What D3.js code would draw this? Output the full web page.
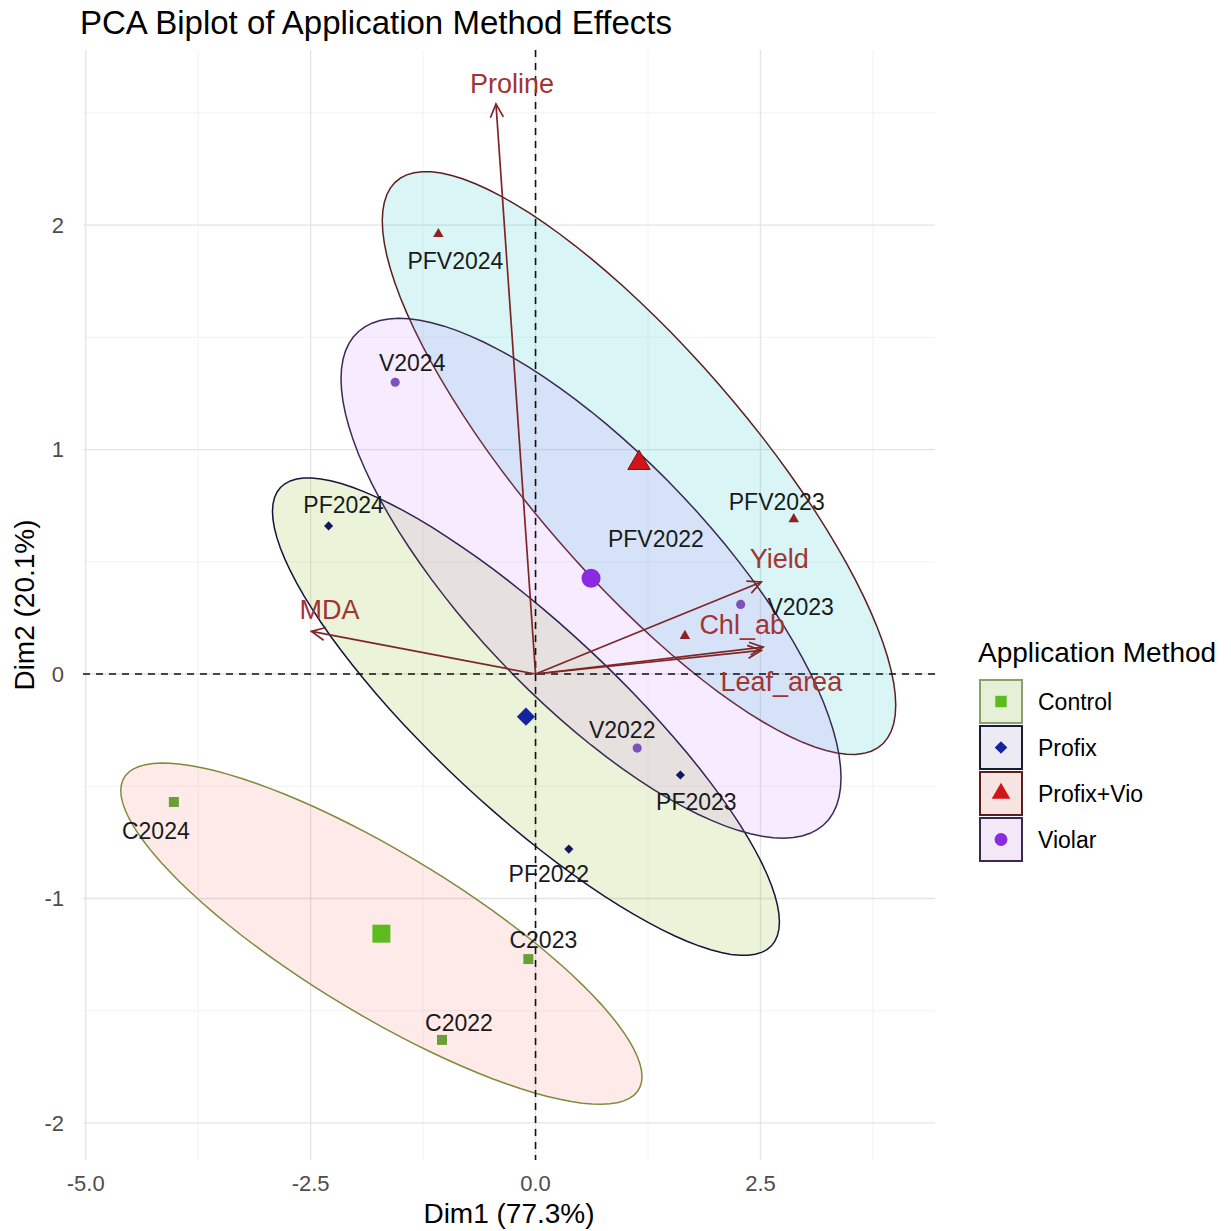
<!DOCTYPE html>
<html>
<head>
<meta charset="utf-8">
<script src="https://cdn.jsdelivr.net/npm/d3@7"></script>
<style>
    body { margin: 0; background: #fff; }
    svg { font-family: "Liberation Sans", Arial, sans-serif; }
</style>
</head>
<body>
<svg id="biplot" width="1231" height="1231"></svg>
<script>
// individuals
const indNames = ["C2022", "C2023", "C2024", "PF2022", "PF2023", "PF2024",
    "PFV2022", "PFV2023", "PFV2024", "V2022", "V2023", "V2024"];
const indGroup = ["Control", "Control", "Control", "Profix", "Profix", "Profix",
    "Profix+Vio", "Profix+Vio", "Profix+Vio", "Violar", "Violar", "Violar"];
const indDim1 = [-1.04, -0.08, -4.02, 0.37, 1.61, -2.30, 1.66, 2.87, -1.08, 1.13, 2.28, -1.56];
const indDim2 = [-1.63, -1.27, -0.57, -0.78, -0.45, 0.66, 0.17, 0.69, 1.96, -0.33, 0.31, 1.30];

// variables
const varNames = ["Proline", "MDA", "Yield", "Chl_ab", "Leaf_area"];
const varDim1 = [-0.44, -2.49, 2.51, 2.53, 2.51];
const varDim2 = [2.54, 0.19, 0.41, 0.12, 0.105];

const groups = ["Control", "Profix", "Profix+Vio", "Violar"];
const xTicks = [-5, -2.5, 0, 2.5];
const yTicks = [-2, -1, 0, 1, 2];
const xMinor = [-3.75, -1.25, 1.25, 3.75];
const yMinor = [-1.5, -0.5, 0.5, 1.5, 2.5];

// styles
const pointColor = {"Control": "#6a9e36", "Profix": "#16165e", "Profix+Vio": "#8e2222", "Violar": "#7c52bb"};
const centroidColor = {"Control": "#5cbb1e", "Profix": "#1424a0", "Profix+Vio": "#d01616", "Violar": "#8a2be2"};
const ellipseFill = {"Control": "#F8766D", "Profix": "#7CAE00", "Profix+Vio": "#00BFC4", "Violar": "#C77CFF"};
const ellipseStroke = {"Control": "#7d8c3c", "Profix": "#15153a", "Profix+Vio": "#5c1f1f", "Violar": "#3a2a52"};
const keyFill = {"Control": "#e5f0d7", "Profix": "#ecebf4", "Profix+Vio": "#f8e3e3", "Violar": "#f2e8f8"};
const keyStroke = {"Control": "#8d9d6d", "Profix": "#1a1a30", "Profix+Vio": "#5a2020", "Violar": "#3a2a50"};
const symbolFor = {"Control": d3.symbolSquare, "Profix": d3.symbolSquare, "Profix+Vio": d3.symbolTriangle, "Violar": d3.symbolCircle};
const smallSize = {"Control": 100, "Profix": 42, "Profix+Vio": 48, "Violar": 66};
const bigSize = {"Control": 324, "Profix": 165, "Profix+Vio": 215, "Violar": 283};

// label nudges in px (text centre relative to the point), like a repel result
const indLabelOffset = {
    "C2022": [17, -17], "C2023": [15, -19], "C2024": [-18, 29],
    "PF2022": [-20, 25], "PF2023": [16, 27], "PF2024": [15, -21],
    "PFV2022": [-29, -97], "PFV2023": [-17, -17], "PFV2024": [17, 27],
    "V2022": [-15, -18], "V2023": [60, 2], "V2024": [17, -19]
};
const varLabelOffset = {
    "Proline": [16, -21], "MDA": [18, -22], "Yield": [18, -24],
    "Chl_ab": [-21, -23], "Leaf_area": [20, 31]
};

const ellipseScale = 1.41;

const svg = d3.select('#biplot');

const panel = {left: 83, right: 935, top: 50, bottom: 1160};

const x = d3.scaleLinear().domain([-5.03, 4.44]).range([panel.left, panel.right]);
const y = d3.scaleLinear().domain([-2.165, 2.78]).range([panel.bottom, panel.top]);

// grid
const grid = svg.append('g');
grid.selectAll('.vminor').data(xMinor).enter().append('line')
    .attr('x1', d => x(d)).attr('x2', d => x(d))
    .attr('y1', panel.top).attr('y2', panel.bottom)
    .attr('stroke', '#f0f0f0').attr('stroke-width', 0.9);
grid.selectAll('.hminor').data(yMinor.filter(d => y(d) >= panel.top)).enter().append('line')
    .attr('x1', panel.left).attr('x2', panel.right)
    .attr('y1', d => y(d)).attr('y2', d => y(d))
    .attr('stroke', '#f0f0f0').attr('stroke-width', 0.9);
grid.selectAll('.vmajor').data(xTicks).enter().append('line')
    .attr('x1', d => x(d)).attr('x2', d => x(d))
    .attr('y1', panel.top).attr('y2', panel.bottom)
    .attr('stroke', '#e4e4e4').attr('stroke-width', 1.3);
grid.selectAll('.hmajor').data(yTicks).enter().append('line')
    .attr('x1', panel.left).attr('x2', panel.right)
    .attr('y1', d => y(d)).attr('y2', d => y(d))
    .attr('stroke', '#e4e4e4').attr('stroke-width', 1.3);

// ellipses from each group's covariance
const ind = indNames.map((n, i) => ({name: n, group: indGroup[i], d1: indDim1[i], d2: indDim2[i]}));

function groupStats(g) {
    const pts = ind.filter(d => d.group === g);
    const mx = d3.mean(pts, d => d.d1);
    const my = d3.mean(pts, d => d.d2);
    const n = pts.length;
    const sxx = d3.sum(pts, d => (d.d1 - mx) ** 2) / (n - 1);
    const syy = d3.sum(pts, d => (d.d2 - my) ** 2) / (n - 1);
    const sxy = d3.sum(pts, d => (d.d1 - mx) * (d.d2 - my)) / (n - 1);
    return {group: g, mx, my, sxx, syy, sxy};
}
const stats = groups.map(groupStats);

function ellipsePoints(s) {
    // cholesky of the 2x2 covariance
    const l11 = Math.sqrt(s.sxx);
    const l21 = s.sxy / l11;
    const l22 = Math.sqrt(Math.max(s.syy - l21 * l21, 0));
    return d3.range(0, 101).map(k => {
        const t = k / 100 * 2 * Math.PI;
        const u = Math.cos(t) * ellipseScale, v = Math.sin(t) * ellipseScale;
        return [x(s.mx + l11 * u), y(s.my + l21 * u + l22 * v)];
    });
}

const lineGen = d3.line().curve(d3.curveLinearClosed);
svg.append('g').selectAll('path').data(stats).enter().append('path')
    .attr('d', s => lineGen(ellipsePoints(s)))
    .attr('fill', s => ellipseFill[s.group])
    .attr('fill-opacity', 0.15)
    .attr('stroke', s => ellipseStroke[s.group])
    .attr('stroke-width', 1.5);

// reference lines
svg.append('line')
    .attr('x1', panel.left).attr('x2', panel.right)
    .attr('y1', y(0)).attr('y2', y(0))
    .attr('stroke', '#111').attr('stroke-width', 1.6).attr('stroke-dasharray', '7,6');
svg.append('line')
    .attr('x1', x(0)).attr('x2', x(0))
    .attr('y1', panel.top).attr('y2', panel.bottom)
    .attr('stroke', '#111').attr('stroke-width', 1.6).attr('stroke-dasharray', '7,6');

// variable arrows
const vars = varNames.map((n, i) => ({name: n, d1: varDim1[i], d2: varDim2[i]}));
const arrows = svg.append('g');
vars.forEach(v => {
    const x0 = x(0), y0 = y(0), x1 = x(v.d1), y1 = y(v.d2);
    const ang = Math.atan2(y1 - y0, x1 - x0);
    const head = 15, spread = Math.PI / 7;
    arrows.append('line')
        .attr('x1', x0).attr('y1', y0).attr('x2', x1).attr('y2', y1)
        .attr('stroke', '#7e2626').attr('stroke-width', 1.7);
    arrows.append('path')
        .attr('d', `M${x1 - head * Math.cos(ang - spread)},${y1 - head * Math.sin(ang - spread)}` +
            `L${x1},${y1}L${x1 - head * Math.cos(ang + spread)},${y1 - head * Math.sin(ang + spread)}`)
        .attr('fill', 'none').attr('stroke', '#7e2626').attr('stroke-width', 1.7);
});

// individual points
const symbol = d3.symbol();
svg.append('g').selectAll('path').data(ind).enter().append('path')
    .attr('d', d => symbol.type(symbolFor[d.group]).size(smallSize[d.group])())
    .attr('transform', d => `translate(${x(d.d1)},${y(d.d2)})` + (d.group === 'Profix' ? ' rotate(45)' : ''))
    .attr('fill', d => pointColor[d.group]);

// group centroids
svg.append('g').selectAll('path').data(stats).enter().append('path')
    .attr('d', s => symbol.type(symbolFor[s.group]).size(bigSize[s.group])())
    .attr('transform', s => `translate(${x(s.mx)},${y(s.my)})` + (s.group === 'Profix' ? ' rotate(45)' : ''))
    .attr('fill', s => centroidColor[s.group])
    .attr('stroke', s => s.group === 'Profix+Vio' ? '#7a1010' : 'none')
    .attr('stroke-width', 1);

// individual labels
svg.append('g').selectAll('text').data(ind).enter().append('text')
    .attr('x', d => x(d.d1) + indLabelOffset[d.name][0])
    .attr('y', d => y(d.d2) + indLabelOffset[d.name][1])
    .attr('dy', '0.36em')
    .attr('text-anchor', 'middle')
    .attr('font-size', 23)
    .attr('fill', '#1a1a1a')
    .text(d => d.name);

// variable labels
svg.append('g').selectAll('text').data(vars).enter().append('text')
    .attr('x', v => x(v.d1) + varLabelOffset[v.name][0])
    .attr('y', v => y(v.d2) + varLabelOffset[v.name][1])
    .attr('dy', '0.36em')
    .attr('text-anchor', 'middle')
    .attr('font-size', 27)
    .attr('fill', '#a23434')
    .text(v => v.name);

// axes text (plain hyphen minus, as in the original)
svg.append('g').selectAll('text').data(xTicks).enter().append('text')
    .attr('x', d => x(d)).attr('y', 1191)
    .attr('text-anchor', 'middle')
    .attr('font-size', 22).attr('fill', '#4d4d4d')
    .text(d => d.toFixed(1));
svg.append('g').selectAll('text').data(yTicks).enter().append('text')
    .attr('x', 64).attr('y', d => y(d))
    .attr('dy', '0.36em')
    .attr('text-anchor', 'end')
    .attr('font-size', 22).attr('fill', '#4d4d4d')
    .text(d => String(d));

svg.append('text')
    .attr('x', (panel.left + panel.right) / 2).attr('y', 1223)
    .attr('text-anchor', 'middle').attr('font-size', 28)
    .text('Dim1 (77.3%)');
svg.append('text')
    .attr('transform', `translate(34,${(panel.top + panel.bottom) / 2}) rotate(-90)`)
    .attr('text-anchor', 'middle').attr('font-size', 28)
    .text('Dim2 (20.1%)');

svg.append('text')
    .attr('x', 80).attr('y', 34)
    .attr('font-size', 33)
    .text('PCA Biplot of Application Method Effects');

// legend
const legend = svg.append('g').attr('transform', 'translate(978,0)');
legend.append('text')
    .attr('x', 0).attr('y', 662)
    .attr('font-size', 28)
    .text('Application Method');
const keys = legend.selectAll('g.key').data(groups).enter().append('g')
    .attr('transform', (g, i) => `translate(2,${680 + i * 46})`);
keys.append('rect')
    .attr('width', 42).attr('height', 43)
    .attr('fill', g => keyFill[g])
    .attr('stroke', g => keyStroke[g]).attr('stroke-width', 2);
keys.append('path')
    .attr('d', g => symbol.type(symbolFor[g]).size(g === 'Profix' ? 80 : (g === 'Profix+Vio' ? 150 : 130))())
    .attr('transform', g => 'translate(21,21.5)' + (g === 'Profix' ? ' rotate(45)' : ''))
    .attr('fill', g => centroidColor[g]);
keys.append('text')
    .attr('x', 58).attr('y', 21.5)
    .attr('dy', '0.36em')
    .attr('font-size', 23)
    .text(g => g);
</script>
</body>
</html>
